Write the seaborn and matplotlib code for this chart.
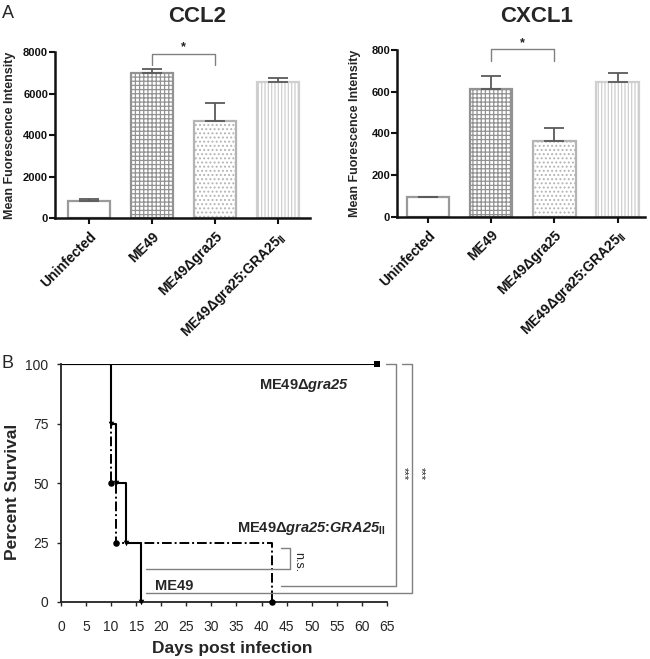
import numpy as np
import pandas as pd
import matplotlib
matplotlib.use('Agg')
import matplotlib.pyplot as plt
import matplotlib.transforms as mtransforms
import seaborn as sns

# ---------------- data ----------------
groups = ['Uninfected', 'ME49', 'ME49Δgra25', 'ME49Δgra25:GRA25$_{\\mathbf{II}}$']
ccl2_mean = [830, 6990, 4690, 6540]
ccl2_err = [80, 210, 860, 210]
cxcl1_mean = [93, 613, 365, 646]
cxcl1_err = [3, 61, 61, 44]

days_me49 = [0, 10, 11, 13, 16]
surv_me49 = [100, 75, 50, 25, 0]
days_ko = [0, 63]
surv_ko = [100, 100]
days_comp = [0, 10, 11, 42]
surv_comp = [100, 50, 25, 0]

x_ticks_b = list(range(0, 70, 5))
y_ticks_b = [0, 25, 50, 75, 100]

# ---------------- style ----------------
sns.set_style('ticks')
plt.rcParams['font.family'] = ['Liberation Sans', 'DejaVu Sans']
plt.rcParams['mathtext.fontset'] = 'custom'
plt.rcParams['mathtext.rm'] = 'Liberation Sans:italic:bold'
plt.rcParams['mathtext.it'] = 'Liberation Sans:italic:bold'
plt.rcParams['mathtext.bf'] = 'Liberation Sans:bold'
plt.rcParams['hatch.linewidth'] = 0.9

fig = plt.figure(figsize=(6.5, 6.59), dpi=100)

bar_styles = [
    dict(edge='#9a9a9a', hatch=None),
    dict(edge='#929292', hatch='++++'),
    dict(edge='#b4b4b4', hatch='....'),
    dict(edge='#cfcfcf', hatch='|||||'),
]


def bar_panel(rect, means, errs, ymax, yticks, xlim, title, title_x, sig_y, sig_leg, star_y,
              ylabel_x, lab_dx):
    ax = fig.add_axes(rect)
    df = pd.DataFrame({'group': groups, 'value': means})
    sns.barplot(data=df, x='group', y='value', ax=ax, width=0.67, color='white',
                errorbar=None, order=groups)
    for p, st in zip(ax.patches, bar_styles):
        p.set_facecolor('white')
        p.set_edgecolor(st['edge'])
        p.set_linewidth(1.6)
        if st['hatch']:
            p.set_hatch(st['hatch'])
    ax.errorbar(x=np.arange(len(groups)), y=means, yerr=[np.zeros(len(errs)), errs],
                fmt='none', ecolor='#5a5a5a', elinewidth=1.3, capsize=7.5, capthick=1.3, zorder=3)
    ax.set_ylim(0, ymax)
    ax.set_xlim(*xlim)
    ax.set_yticks(yticks)
    ax.set_yticklabels([str(v) for v in yticks], fontweight='bold', fontsize=8)
    ax.set_xticks(np.arange(len(groups)))
    labs = ax.set_xticklabels(groups, rotation=45, ha='right', va='top', rotation_mode='anchor',
                              fontweight='bold', fontsize=10)
    off = mtransforms.ScaledTranslation(lab_dx / 100, 0, fig.dpi_scale_trans)
    for t in labs:
        t.set_transform(t.get_transform() + off)
    ax.set_xlabel('')
    ax.set_ylabel('Mean Fuorescence Intensity', fontweight='bold', fontsize=9)
    ax.yaxis.set_label_coords(ylabel_x, 0.5)
    for s in ['top', 'right']:
        ax.spines[s].set_visible(False)
    for s in ['left', 'bottom']:
        ax.spines[s].set_linewidth(1.8)
        ax.spines[s].set_color('#111111')
    ax.tick_params(axis='y', length=4, width=1.5, pad=1, colors='#111111')
    ax.tick_params(axis='x', length=4, width=1.5, pad=4, colors='#111111')
    # significance bracket
    ax.plot([1, 1, 2, 2], [sig_leg, sig_y, sig_y, sig_leg], color='#808080', lw=1, clip_on=False)
    ax.text(1.5, star_y, '*', ha='center', va='bottom', fontsize=9, fontweight='bold', color='#222222')
    fig.text(title_x, 1 - 22 / 659, title, ha='center', va='baseline', fontsize=16, fontweight='bold')
    return ax


bar_panel([0.0846, 0.669, 0.392, 0.252], ccl2_mean, ccl2_err, 8000, [0, 2000, 4000, 6000, 8000],
          (-0.54, 3.51), 'CCL2', 197 / 650, 7920, 7390, 7950, -0.153, -10)
bar_panel([0.611, 0.671, 0.381, 0.253], cxcl1_mean, cxcl1_err, 800, [0, 200, 400, 600, 800],
          (-0.49, 3.43), 'CXCL1', 537 / 650, 803, 747, 806, -0.145, -11)

fig.text(0.003, 1 - 18 / 659, 'A', fontsize=13, va='baseline', ha='left')
fig.text(0.003, 1 - 368 / 659, 'B', fontsize=13, va='baseline', ha='left')

# ---------------- panel B ----------------
axb = fig.add_axes([0.0938, 0.0865, 0.5015, 0.361])
sns.lineplot(x=days_ko, y=surv_ko, ax=axb, color='black', lw=1.5, drawstyle='steps-post',
             estimator=None, sort=False)
sns.lineplot(x=days_me49, y=surv_me49, ax=axb, color='black', lw=1.5, drawstyle='steps-post',
             estimator=None, sort=False)
sns.lineplot(x=days_comp, y=surv_comp, ax=axb, color='black', lw=1.4, drawstyle='steps-post',
             estimator=None, sort=False, dashes=False)
axb.lines[-1].set_dashes([5, 1.5, 1, 1.5])
sns.scatterplot(x=days_ko[1:], y=surv_ko[1:], ax=axb, marker='s', color='black', s=22, linewidth=0, zorder=4, clip_on=False)
sns.scatterplot(x=days_me49[1:], y=surv_me49[1:], ax=axb, marker='v', color='black', s=16, linewidth=0, zorder=4, clip_on=False)
sns.scatterplot(x=days_comp[1:], y=surv_comp[1:], ax=axb, marker='o', color='black', s=22, linewidth=0, zorder=4, clip_on=False)

axb.set_xlim(0, 65)
axb.set_ylim(0, 100)
axb.set_xticks(x_ticks_b)
axb.set_xticklabels([str(v) for v in x_ticks_b], fontsize=10)
axb.set_yticks(y_ticks_b)
axb.set_yticklabels([str(v) for v in y_ticks_b], fontsize=10)
axb.set_xlabel('Days post infection', fontweight='bold', fontsize=12.5)
axb.set_ylabel('Percent Survival', fontweight='bold', fontsize=12.5)
axb.xaxis.set_label_coords(0.525, -0.165)
axb.xaxis.label.set_va('top')
axb.yaxis.set_label_coords(-0.126, 0.462)
for s in ['top', 'right']:
    axb.spines[s].set_visible(False)
for s in ['left', 'bottom']:
    axb.spines[s].set_linewidth(1.3)
    axb.spines[s].set_color('#222222')
axb.tick_params(axis='x', length=3, width=1, pad=10)
axb.tick_params(axis='y', length=3, width=1, pad=6)

gray = '#808080'
axb.plot([43.8, 45.6, 45.6, 17], [22.7, 22.7, 13.9, 13.9], color=gray, lw=1, clip_on=False)
axb.plot([64.8, 66.8, 66.8, 43.8], [100, 100, 6.7, 6.7], color=gray, lw=1, clip_on=False)
axb.plot([68.0, 70.0, 70.0, 17], [100, 100, 3.8, 3.8], color=gray, lw=1, clip_on=False)
axb.text(47.2, 16.8, 'n.s.', rotation=270, ha='center', va='center', fontsize=9, clip_on=False)
axb.text(68.3, 53.8, '***', rotation=270, ha='center', va='center', fontsize=8, clip_on=False)
axb.text(71.7, 53.8, '***', rotation=270, ha='center', va='center', fontsize=8, clip_on=False)

axb.text(48.4, 91, r'ME49Δ$gra25$', ha='center', va='center', fontweight='bold', fontsize=10.5)
axb.text(50, 30.7, r'ME49Δ$gra25$:$GRA25_{\mathbf{II}}$', ha='center', va='center',
         fontweight='bold', fontsize=10.5)
axb.text(22.6, 6.7, 'ME49', ha='center', va='center', fontweight='bold', fontsize=10.5)

fig.savefig('out.png', dpi=100)
